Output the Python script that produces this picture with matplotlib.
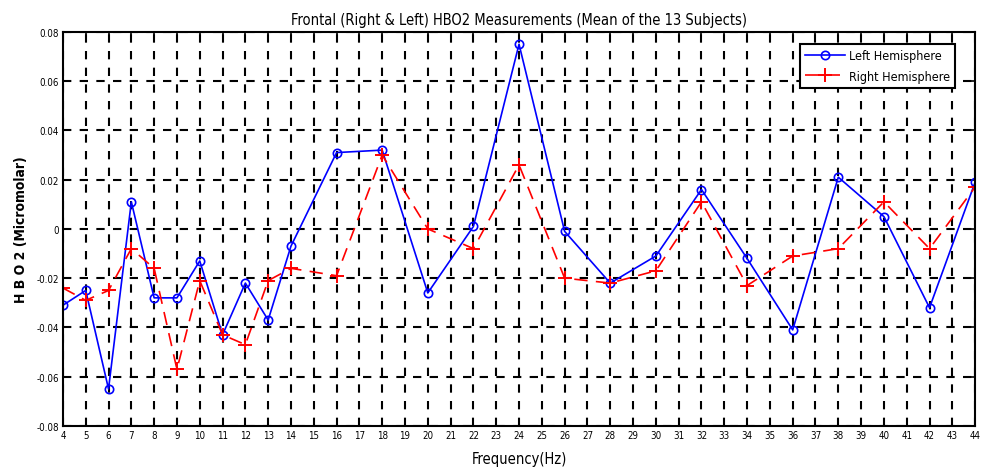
import numpy as np
import matplotlib
matplotlib.use('Agg')
import matplotlib.pyplot as plt

plt.rcParams['font.family'] = ['DejaVu Sans']
plt.rcParams['font.stretch'] = 'condensed'

# frequencies (Hz) where each hemisphere was sampled
freq = [4, 5, 6, 7, 8, 9, 10, 11, 12, 13, 14, 16, 18, 20, 22, 24, 26, 28, 30, 32, 34, 36, 38, 40, 42, 44]
left_hbo2 = [-0.031, -0.025, -0.065, 0.011, -0.028, -0.028, -0.013, -0.043, -0.022, -0.037, -0.007,
             0.031, 0.032, -0.026, 0.001, 0.075, -0.001, -0.022, -0.011, 0.016, -0.012, -0.041,
             0.021, 0.005, -0.032, 0.019]
right_hbo2 = [-0.024, -0.029, -0.025, -0.008, -0.016, -0.057, -0.021, -0.043, -0.047, -0.021, -0.016,
              -0.019, 0.030, 0.000, -0.008, 0.026, -0.020, -0.022, -0.017, 0.011, -0.023, -0.011,
              -0.008, 0.011, -0.008, 0.017]
xticks = list(range(4, 45))
yticks = [-0.08, -0.06, -0.04, -0.02, 0, 0.02, 0.04, 0.06, 0.08]
ytick_labels = ['-0.08', '-0.06', '-0.04', '-0.02', '0', '0.02', '0.04', '0.06', '0.08']

fig = plt.figure(figsize=(9.83, 4.77), dpi=100)
ax = fig.add_axes([0.064, 0.105, 0.928, 0.826])

ax.plot(freq, left_hbo2, color='blue', marker='o', markersize=6, markerfacecolor='none',
        markeredgewidth=1.2, linewidth=1.2, label='Left Hemisphere')
ax.plot(freq, right_hbo2, color='red', linestyle=(0, (8, 5)), marker='+', markersize=10,
        markeredgewidth=1.4, linewidth=1.2, label='Right Hemisphere')

ax.set_xlim(4, 44)
ax.set_ylim(-0.08, 0.08)
ax.set_xticks(xticks)
ax.set_xticklabels([str(t) for t in xticks], fontsize=7)
ax.set_yticks(yticks)
ax.set_yticklabels(ytick_labels, fontsize=7)
ax.tick_params(direction='in', length=4, width=1.2, top=True, right=True, pad=3)
ax.grid(True, color='black', linestyle=(0, (4, 4)), linewidth=1.5)
for s in ax.spines.values():
    s.set_linewidth(1.5)

ax.set_title('Frontal (Right & Left) HBO2 Measurements (Mean of the 13 Subjects)', fontsize=10.5, pad=6)
ax.set_xlabel('Frequency(Hz)', fontsize=10.5, labelpad=8)
ax.set_ylabel('H B O 2 (Micromolar)', fontsize=10, fontweight='bold', labelpad=6)

leg = ax.legend(loc='upper right', bbox_to_anchor=(0.985, 0.985), fontsize=9, fancybox=False,
                framealpha=1, edgecolor='black', handlelength=3.2, handletextpad=0.3,
                borderpad=0.4, labelspacing=0.6)
leg.get_frame().set_linewidth(1.5)

fig.savefig('out.png', dpi=100)
